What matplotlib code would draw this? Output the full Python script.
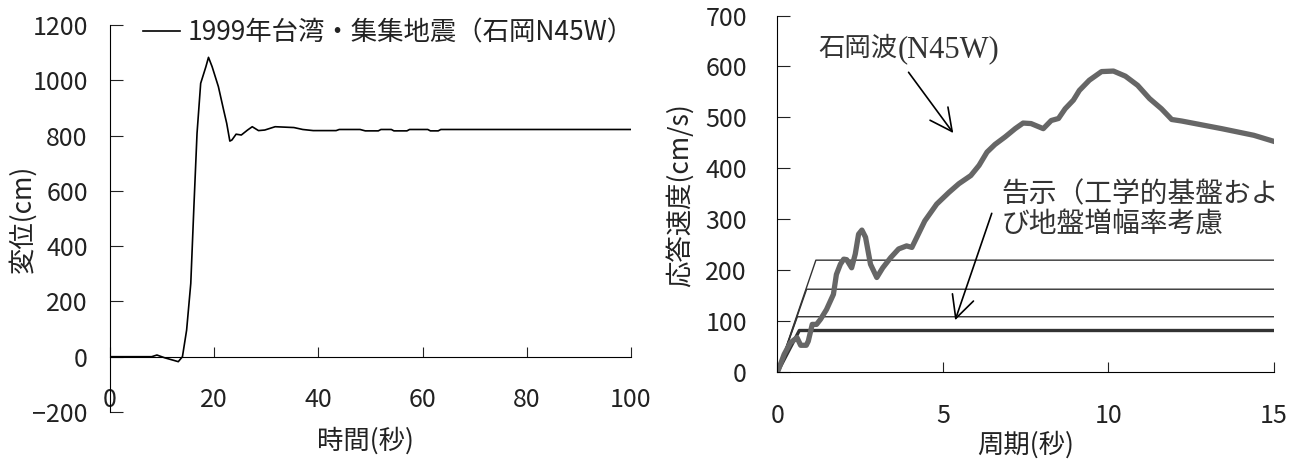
import matplotlib
matplotlib.use('Agg')
import matplotlib.pyplot as plt

plt.rcParams['font.family'] = ['Noto Sans CJK JP', 'DejaVu Sans']

# left: displacement time history
time_s = [0, 8.0, 9.0, 10.5, 12.0, 13.1, 13.9, 14.7, 15.5, 16.1, 16.7, 17.4, 18.4,
          18.9, 19.6, 20.8, 21.8, 22.4, 23.0, 23.4, 24.2, 25.2, 26.4, 27.3, 28.5,
          29.7, 31.7, 35.3, 37.0, 39.0, 43.4, 44.0, 48.0, 49.0, 51.5, 52.0, 54.0,
          54.5, 57.0, 57.5, 61.0, 61.5, 63.0, 63.5, 100]
disp_cm = [0, 0, 6, -4, -12, -18, 0, 96, 265, 543, 808, 989, 1049,
           1083, 1049, 977, 893, 844, 780, 784, 805, 802, 820, 832, 818,
           820, 832, 829, 822, 818, 818, 822, 822, 817, 817, 822, 822,
           817, 817, 822, 822, 817, 817, 822, 822]

# right: velocity response spectrum
period = [0, 0.2, 0.39, 0.51, 0.59, 0.7, 0.87, 0.93, 1.05, 1.18, 1.3, 1.48, 1.69,
          1.78, 1.9, 2.0, 2.09, 2.24, 2.35, 2.45, 2.55, 2.66, 2.81, 3.0, 3.18,
          3.42, 3.66, 3.9, 4.06, 4.21, 4.45, 4.81, 5.18, 5.48, 5.84, 6.09, 6.33,
          6.57, 6.88, 7.18, 7.42, 7.66, 8.03, 8.27, 8.49, 8.69, 8.94, 9.12, 9.42,
          9.79, 10.15, 10.51, 10.88, 11.24, 11.6, 11.91, 12.21, 13.42, 14.39, 15]
sv_ishioka = [0, 35, 58, 64, 68, 53, 53, 61, 94, 94, 104, 123, 153,
              192, 212, 222, 221, 205, 232, 271, 279, 265, 212, 186, 205,
              225, 242, 248, 245, 265, 297, 330, 353, 370, 386, 406, 432,
              447, 462, 478, 489, 488, 478, 494, 498, 517, 534, 553, 573,
              590, 591, 581, 563, 537, 517, 496, 493, 478, 465, 453]

# notification spectra: corner period and plateau value
kokuji_corner = [1.16, 0.88, 0.60, 0.66]
kokuji_level = [220, 163, 109, 82]
kokuji_width = [1.0, 1.0, 1.0, 2.4]

fig = plt.figure(figsize=(12.9, 4.63), dpi=100)
ax1 = fig.add_axes([0.0853, 0.1102, 0.4038, 0.8358])
ax2 = fig.add_axes([0.6027, 0.1959, 0.3849, 0.7706])

ax1.plot(time_s, disp_cm, color='black', lw=1.2,
         label='1999年台湾・集集地震（石岡N45W）')
ax1.set_xlim(0, 100)
ax1.set_ylim(-200, 1200)
ax1.set_xticks(range(0, 101, 20))
ax1.set_yticks(range(-200, 1201, 200))
ax1.spines['top'].set_visible(False)
ax1.spines['right'].set_visible(False)
ax1.spines['bottom'].set_position(('data', 0))
ax1.tick_params(axis='x', direction='in', length=7, pad=22, labelsize=18, colors='#222222')
ax1.tick_params(axis='y', direction='in', length=9, pad=16, labelsize=18, colors='#222222')
ax1.text(-0.167, 0.5, '変位(cm)', rotation=90, ha='center', va='center',
         fontsize=19, transform=ax1.transAxes, color='#222222')
ax1.text(0.49, -0.075, '時間(秒)', ha='center', va='center',
         fontsize=19, transform=ax1.transAxes, color='#222222')
ax1.legend(loc='center left', bbox_to_anchor=(0.1109, 0.9287),
           bbox_transform=fig.transFigure, frameon=False, fontsize=19,
           handlelength=1.4, handletextpad=0.3, borderpad=0, borderaxespad=0,
           labelcolor='#222222')

for tc, lv, w in zip(kokuji_corner, kokuji_level, kokuji_width):
    ax2.plot([0, tc, 15], [0, lv, lv], color='#333333', lw=w)
ax2.plot(period, sv_ishioka, color='#666666', lw=3.8, solid_joinstyle='round')
ax2.set_xlim(0, 15)
ax2.set_ylim(0, 700)
ax2.set_xticks([0, 5, 10, 15])
ax2.set_yticks(range(0, 701, 100))
ax2.spines['top'].set_visible(False)
ax2.spines['right'].set_visible(False)
ax2.tick_params(axis='x', direction='in', length=7, pad=22, labelsize=18, colors='#222222')
ax2.tick_params(axis='y', direction='in', length=9, pad=22, labelsize=18, colors='#222222')
ax2.text(-0.196, 0.497, '応答速度(cm/s)', rotation=90, ha='center', va='center',
         fontsize=19, transform=ax2.transAxes, color='#222222')
ax2.text(0.5, -0.205, '周期(秒)', ha='center', va='center',
         fontsize=19, transform=ax2.transAxes, color='#222222')

serif = ['Liberation Serif', 'Noto Sans CJK JP']
ax2.annotate('', xy=(5.36, 465), xytext=(3.91, 593),
             arrowprops=dict(arrowstyle='->', lw=1.2, color='black', mutation_scale=40))
ax2.annotate('', xy=(5.34, 97), xytext=(6.5, 317),
             arrowprops=dict(arrowstyle='->', lw=1.2, color='black', mutation_scale=40))
name = ax2.text(1.24, 635, '石岡波', ha='left', va='center', fontsize=19,
                color='#333333')
ax2.annotate('(N45W)', xy=(1, 0.45), xycoords=name, ha='left', va='center',
             fontsize=22, family='Liberation Serif', color='#333333')
ax2.text(6.77, 348, '告示（工学的基盤およ', ha='left', va='center', fontsize=20,
         family=serif, color='#333333')
ax2.text(6.77, 290, 'び地盤増幅率考慮', ha='left', va='center', fontsize=20,
         family=serif, color='#333333')

fig.savefig('out.png', dpi=100)
